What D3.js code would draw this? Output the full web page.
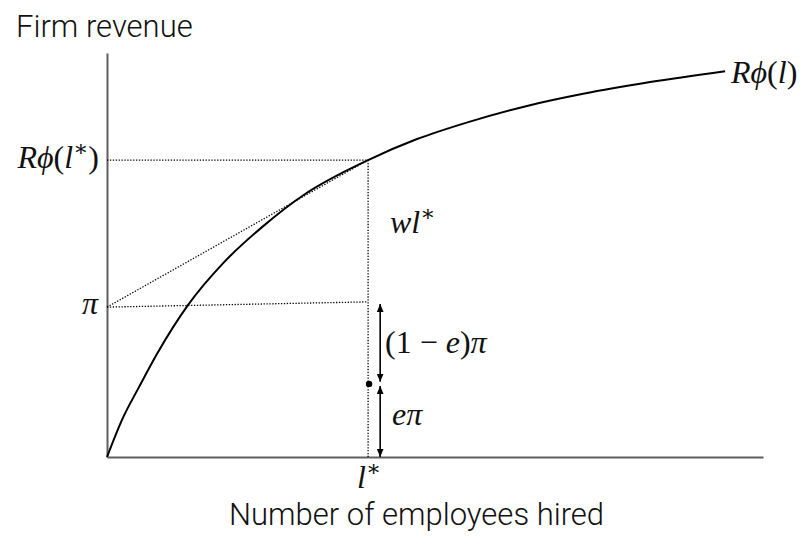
<!DOCTYPE html>
<html>
<head>
<meta charset="utf-8">
<script src="https://cdn.jsdelivr.net/npm/d3@7"></script>
<style>
  html, body { margin: 0; padding: 0; background: #fff; }
  svg { display: block; }
  .sans { font-family: Roboto, "Liberation Sans", sans-serif; font-weight: 300; fill: #111; }
  .math { font-family: "Liberation Serif", "DejaVu Serif", serif; fill: #111; }
</style>
</head>
<body>
<svg id="chart" width="808" height="536"></svg>
<script>
// Revenue curve R·phi(l), sampled (employees, revenue)
const laborValues   = [0, 0.46, 0.98, 1.53, 2.48, 3.56, 4.75, 6.07, 8.0, 9.50, 11.07, 12.87, 14.59, 16.64, 18.94];
const revenueValues = [0, 0.92, 1.73, 2.55, 3.76, 4.80, 5.69, 6.51, 7.35, 7.87, 8.29, 8.69, 8.99, 9.28, 9.55];

// Key levels
const lStar = 8.0;            // optimal hiring l*
const revenueAtLStar = 7.35;  // R·phi(l*)
const profitLevel = 3.71;     // pi on the vertical axis
const profitAtLStar = 3.84;   // end of the pi guide line at l*
const ePiLevel = 1.81;        // e·pi split point
const arrowX = 8.37;          // position of the bracket arrows

// Axis extents
const xMax = 20.1;
const yMax = 10;

const svg = d3.select("#chart");
const x = d3.scaleLinear().domain([0, xMax]).range([107, 763]);
const y = d3.scaleLinear().domain([0, yMax]).range([457, 53]);

// Axes: bare lines, no ticks
const xAxis = svg.append("g").attr("transform", `translate(0,${y(0)})`)
  .call(d3.axisBottom(x).tickValues([]).tickSizeOuter(0));
const yAxis = svg.append("g").attr("transform", `translate(${x(0)},0)`)
  .call(d3.axisLeft(y).tickValues([]).tickSizeOuter(0));
[xAxis, yAxis].forEach(g => g.select(".domain").attr("stroke", "#5f5f5f").attr("stroke-width", 2));

// Arrowheads
const defs = svg.append("defs");
defs.append("marker")
  .attr("id", "head").attr("viewBox", "0 0 10 10")
  .attr("refX", 10).attr("refY", 5)
  .attr("markerWidth", 8).attr("markerHeight", 8)
  .attr("markerUnits", "userSpaceOnUse")
  .attr("orient", "auto-start-reverse")
  .append("path").attr("d", "M0,0.8 L10,5 L0,9.2 Z").attr("fill", "#000");

// Dotted guide lines
const guide = (pts) => svg.append("path")
  .attr("d", d3.line().x(d => x(d[0])).y(d => y(d[1]))(pts))
  .attr("fill", "none").attr("stroke", "#000")
  .attr("stroke-width", 1.3).attr("stroke-dasharray", "1.3,1.6");

guide([[0, revenueAtLStar], [lStar, revenueAtLStar]]);
guide([[lStar, revenueAtLStar], [lStar, 0]]);
guide([[0, profitLevel], [lStar, revenueAtLStar]]);
guide([[0, profitLevel], [lStar, profitAtLStar]]);

// Revenue curve
svg.append("path")
  .datum(laborValues.map((l, i) => [l, revenueValues[i]]))
  .attr("d", d3.line().x(d => x(d[0])).y(d => y(d[1])).curve(d3.curveMonotoneX))
  .attr("fill", "none").attr("stroke", "#000").attr("stroke-width", 2);

// Split point dot
svg.append("circle").attr("cx", x(lStar) + 1).attr("cy", y(ePiLevel)).attr("r", 3.2).attr("fill", "#000");

// Bracket arrows: (1-e)pi and e pi
const arrow = (y0, y1) => svg.append("line")
  .attr("x1", x(arrowX)).attr("x2", x(arrowX))
  .attr("y1", y(y0)).attr("y2", y(y1))
  .attr("stroke", "#000").attr("stroke-width", 1.6)
  .attr("marker-start", "url(#head)").attr("marker-end", "url(#head)");
arrow(profitAtLStar - 0.05, ePiLevel + 0.05);
arrow(ePiLevel - 0.05, 0);

// Axis titles
svg.append("text").attr("class", "sans").attr("x", 16).attr("y", 37)
  .attr("font-size", 31).text("Firm revenue");
svg.append("text").attr("class", "sans").attr("x", 229).attr("y", 525)
  .attr("font-size", 31).text("Number of employees hired");

// Math labels
function mathLabel(px, py, anchor, parts, size) {
  const t = svg.append("text").attr("class", "math")
    .attr("x", px).attr("y", py).attr("text-anchor", anchor)
    .attr("font-size", size);
  parts.forEach(p => {
    const s = t.append("tspan").text(p.t);
    if (p.i) s.attr("font-style", "italic");
    if (p.sup) s.attr("font-size", size * 0.7).attr("dy", -size * 0.38);
    if (p.down) s.attr("dy", size * 0.38);
  });
  return t;
}

const M = 32;
mathLabel(99, 168, "end", [{t: "R", i: 1}, {t: "ϕ", i: 1}, {t: "("}, {t: "l", i: 1}, {t: "∗", sup: 1}, {t: ")", down: 1}], M);
mathLabel(98, 314, "end", [{t: "π", i: 1}], M);
mathLabel(731, 83, "start", [{t: "R", i: 1}, {t: "ϕ", i: 1}, {t: "("}, {t: "l", i: 1}, {t: ")"}], M);
mathLabel(390, 233, "start", [{t: "wl", i: 1}, {t: "∗", sup: 1}], M);
mathLabel(385, 353, "start", [{t: "(1 − "}, {t: "e", i: 1}, {t: ")"}, {t: "π", i: 1}], M);
mathLabel(392, 425, "start", [{t: "eπ", i: 1}], M);
mathLabel(x(lStar) + 1, 488, "middle", [{t: "l", i: 1}, {t: "∗", sup: 1}], M);
</script>
</body>
</html>
